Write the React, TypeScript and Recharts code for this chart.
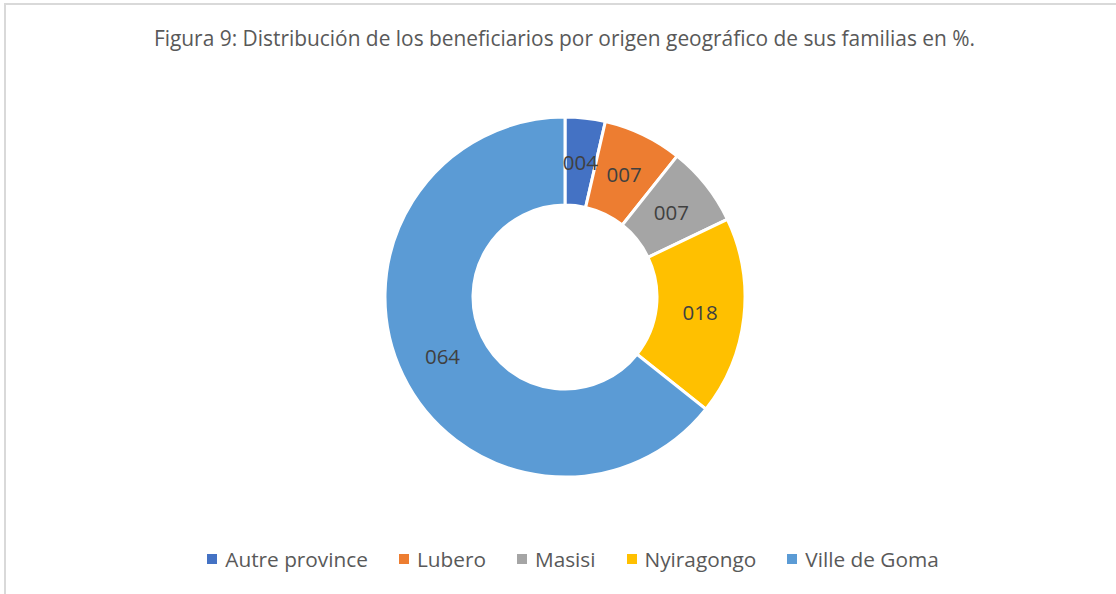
import React from "react";
import { PieChart, Pie, Cell, Legend } from "recharts";

const categories = ["Autre province", "Lubero", "Masisi", "Nyiragongo", "Ville de Goma"];
const values = [3.6, 7.1, 7.2, 17.8, 64.3];
const colors = ["#4472C4", "#ED7D31", "#A5A5A5", "#FFC000", "#5B9BD5"];
const titleText = "Figura 9: Distribución de los beneficiarios por origen geográfico de sus familias en %.";

const data = categories.map((name, i) => ({ name, value: values[i] }));

const FONT = "'Open Sans', 'Noto Sans', sans-serif";
const RAD = Math.PI / 180;

const fmt = (v: number) => String(Math.round(v)).padStart(3, "0");

const renderLabel = (props: any) => {
  const { cx, cy, midAngle, innerRadius, outerRadius, value } = props;
  const r = (innerRadius + outerRadius) / 2;
  const x = cx + r * Math.cos(-midAngle * RAD);
  const y = cy + r * Math.sin(-midAngle * RAD);
  return (
    <text
      x={x}
      y={y}
      fill="#404040"
      textAnchor="middle"
      dominantBaseline="central"
      fontFamily={FONT}
      fontSize={20.5}
    >
      {fmt(value)}
    </text>
  );
};

const renderLegend = () => (
  <div
    style={{
      display: "flex",
      justifyContent: "center",
      alignItems: "center",
      fontFamily: FONT,
      fontSize: 20.8,
      color: "#595959",
      paddingLeft: 30,
    }}
  >
    {categories.map((c, i) => (
      <div key={c} style={{ display: "flex", alignItems: "center", marginRight: i < categories.length - 1 ? 31 : 0 }}>
        <span style={{ display: "inline-block", width: 10, height: 10, background: colors[i], marginRight: 8 }} />
        <span>{c}</span>
      </div>
    ))}
  </div>
);

export default function App() {
  return (
    <div
      style={{
        position: "absolute",
        left: 0,
        top: 0,
        width: 1116,
        height: 594,
        overflow: "hidden",
        background: "#ffffff",
      }}
    >
      <div
        style={{
          position: "absolute",
          left: 4,
          top: 3,
          width: 1300,
          height: 800,
          border: "2px solid #d9d9d9",
        }}
      />
      <div
        style={{
          position: "absolute",
          left: 0,
          top: 24,
          width: 1129,
          textAlign: "center",
          fontFamily: FONT,
          fontSize: 20.9,
          color: "#595959",
          whiteSpace: "nowrap",
        }}
      >
        {titleText}
      </div>
      <div style={{ position: "absolute", left: 0, top: 0 }}>
        <PieChart width={1116} height={594}>
          <Pie
            data={data}
            dataKey="value"
            nameKey="name"
            cx={560}
            cy={292}
            innerRadius={92}
            outerRadius={180}
            startAngle={90}
            endAngle={-270}
            stroke="#ffffff"
            strokeWidth={3}
            label={renderLabel}
            labelLine={false}
            isAnimationActive={false}
          >
            {data.map((d, i) => (
              <Cell key={d.name} fill={colors[i]} />
            ))}
          </Pie>
          <Legend
            content={renderLegend}
            wrapperStyle={{ position: "absolute", top: 545, left: 0, width: 1116 }}
          />
        </PieChart>
      </div>
    </div>
  );
}
